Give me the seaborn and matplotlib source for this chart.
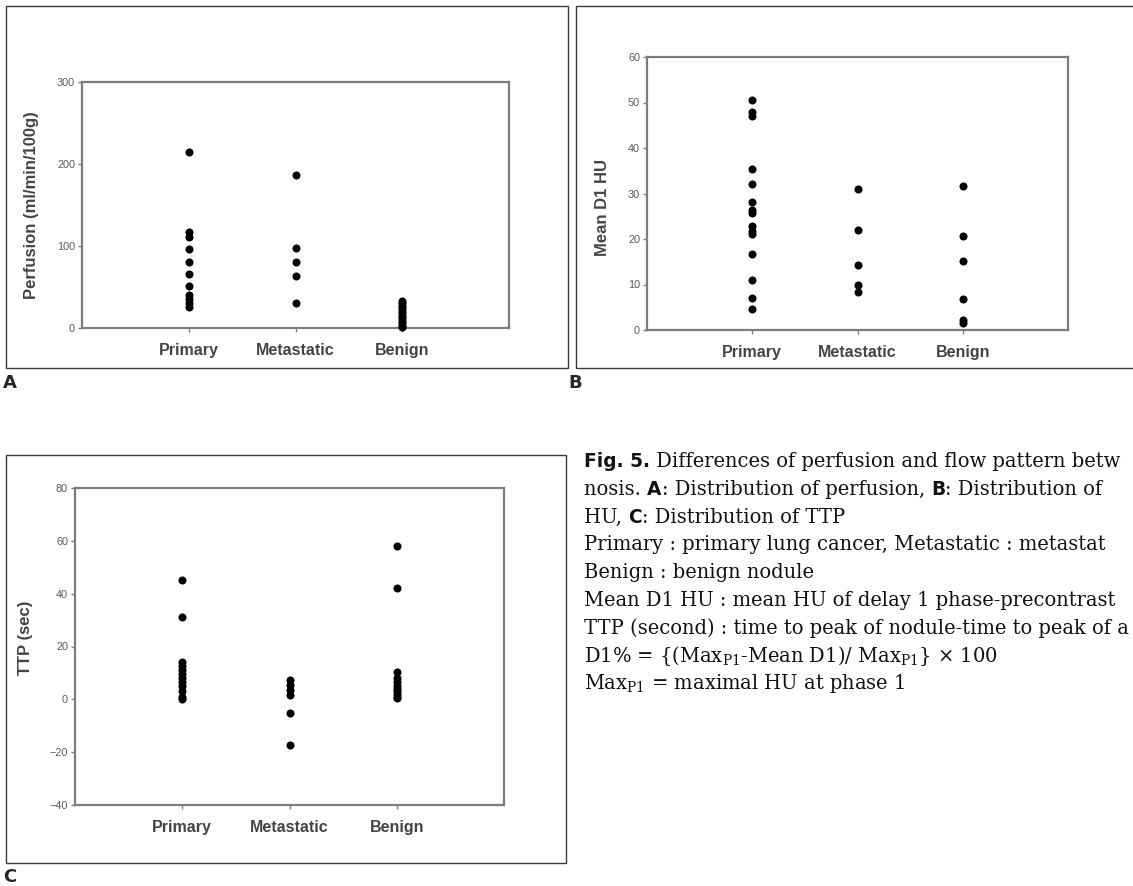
import matplotlib
matplotlib.use("Agg")
import numpy as np
import pandas as pd
import matplotlib.pyplot as plt
import seaborn as sns
from matplotlib.patches import Rectangle

# categories
groups = ["Primary", "Metastatic", "Benign"]

# A: perfusion (ml/min/100g)
perf_primary = [215, 117, 111, 96, 81, 66, 51, 40, 35, 30, 26]
perf_metastatic = [187, 97, 81, 64, 31]
perf_benign = [33, 30, 27, 24, 21, 18, 15, 12, 9, 6, 3, 1]

# B: mean D1 HU
hu_primary = [50.5, 48, 47, 35.3, 32, 28.2, 26.3, 25.8, 22.8, 21.8, 21, 16.8, 11, 7, 4.6]
hu_metastatic = [31, 22, 14.3, 10, 8.3]
hu_benign = [31.7, 20.7, 15.1, 6.9, 2.3, 1.6]

# C: TTP (sec)
ttp_primary = [45, 31, 14, 12.5, 11, 9.5, 8, 6.5, 5, 3, 1, 0]
ttp_metastatic = [7.3, 5.5, 3.5, 1.5, -5.2, -17.2]
ttp_benign = [58, 42, 10.5, 8, 6.5, 5, 4, 3, 2, 1, 0.5]

W, H = 1133, 886


def long_df(prim, meta, ben):
    rows = [(g, v) for g, vals in zip(groups, [prim, meta, ben]) for v in vals]
    return pd.DataFrame(rows, columns=["group", "value"])


def px_rect(x0, y0, x1, y1):
    return [x0 / W, 1 - y1 / H, (x1 - x0) / W, (y1 - y0) / H]


sns.set_style("white")
plt.rcParams["font.family"] = ["Liberation Sans", "DejaVu Sans"]

fig = plt.figure(figsize=(W / 100, H / 100), dpi=100)

# panel frames
for x0, y0, x1, y1 in [(6, 6, 568, 368), (576, 6, 1140, 368), (6, 455, 566, 863)]:
    fig.add_artist(Rectangle((x0 / W, 1 - y1 / H), (x1 - x0) / W, (y1 - y0) / H,
                             transform=fig.transFigure, fill=False, lw=1.0, ec="#3a3a3a"))


def panel(rect, df, ylim, yticks, ylabel, lab_xy):
    ax = fig.add_axes(px_rect(*rect))
    sns.stripplot(data=df, x="group", y="value", order=groups, jitter=False,
                  color="black", size=5.8, linewidth=0, ax=ax)
    for c in ax.collections:
        c.set_clip_on(False)
    ax.set_xlim(-1, 3)
    ax.set_ylim(*ylim)
    ax.set_yticks(yticks)
    for s in ax.spines.values():
        s.set_color("#7d7d7d")
        s.set_linewidth(1.6)
    ax.tick_params(axis="y", left=True, direction="out", length=3, width=1,
                   color="#7d7d7d", labelsize=7.8, labelcolor="#5a5a5a", pad=2)
    ax.tick_params(axis="x", bottom=True, direction="out", length=3, width=1,
                   color="#7d7d7d", labelsize=11.5, labelcolor="#444444", pad=7.5)
    for t in ax.get_xticklabels():
        t.set_fontweight("bold")
    ax.set_xlabel("")
    ax.set_ylabel(ylabel, fontsize=12, fontweight="bold", color="#444444")
    ax.yaxis.set_label_coords(*lab_xy)
    return ax


panel((82, 82, 509, 328), long_df(perf_primary, perf_metastatic, perf_benign),
      (0, 300), [0, 100, 200, 300], "Perfusion (ml/min/100g)", (-0.10, 0.5))
panel((647, 57, 1068, 330), long_df(hu_primary, hu_metastatic, hu_benign),
      (0, 60), [0, 10, 20, 30, 40, 50, 60], "Mean D1 HU", (-0.088, 0.45))
panel((75, 488, 504, 805), long_df(ttp_primary, ttp_metastatic, ttp_benign),
      (-40, 80), [-40, -20, 0, 20, 40, 60, 80], "TTP (sec)", (-0.098, 0.527))

# panel letters
for lx, ly, lt in [(3, 388, "A"), (568, 388, "B"), (3, 882, "C")]:
    fig.text(lx / W, 1 - ly / H, lt, fontsize=13, fontweight="bold",
             family=["DejaVu Sans"], va="baseline", ha="left")

# caption
renderer = fig.canvas.get_renderer()
serif = ["DejaVu Serif"]
bold_sans = ["DejaVu Sans"]

# size the caption so its longest line just fits before the right edge
probe = fig.text(0, 0, "TTP (second) : time to peak of nodule-time to peak of a",
                 fontsize=12, family=serif)
pw = probe.get_window_extent(renderer).width
probe.remove()
fs = 12 * 544 / pw

plt.rcParams["mathtext.fontset"] = "dejavuserif"

# the caption is cropped at the right edge in the source image
lines = [
    [("Fig. 5.", "b"), (" Differences of perfusion and flow pattern betw", "r")],
    [("nosis. ", "r"), ("A", "b"), (": Distribution of perfusion, ", "r"), ("B", "b"), (": Distribution of", "r")],
    [("HU, ", "r"), ("C", "b"), (": Distribution of TTP", "r")],
    [("Primary : primary lung cancer, Metastatic : metastat", "r")],
    [("Benign : benign nodule", "r")],
    [("Mean D1 HU : mean HU of delay 1 phase-precontrast", "r")],
    [("TTP (second) : time to peak of nodule-time to peak of a", "r")],
    [(r"D1% = {(Max$_{\mathrm{P1}}$-Mean D1)/ Max$_{\mathrm{P1}}$} × 100", "r")],
    [(r"Max$_{\mathrm{P1}}$ = maximal HU at phase 1", "r")],
]

y = 467
for segs in lines:
    x = 584
    for txt, kind in segs:
        if kind == "b":
            t = fig.text(x / W, 1 - y / H, txt, fontsize=fs * 0.95, fontweight="bold",
                         family=bold_sans, va="baseline", ha="left", color="#111")
        else:
            t = fig.text(x / W, 1 - y / H, txt, fontsize=fs, family=serif,
                         va="baseline", ha="left", color="#111")
        x += t.get_window_extent(renderer).width
    y += 27.8

fig.savefig("out.png", dpi=100, facecolor="white")
